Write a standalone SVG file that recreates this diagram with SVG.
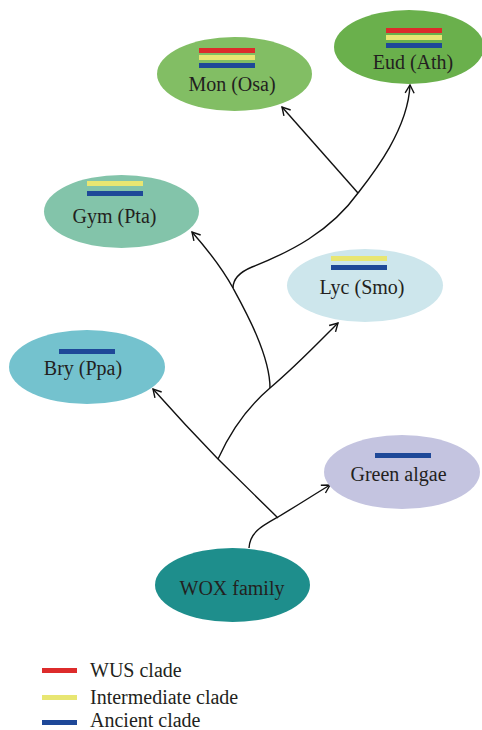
<svg xmlns="http://www.w3.org/2000/svg" width="482" height="730" viewBox="0 0 482 730">
<style>
.lbl{font-family:"Liberation Serif","Times New Roman",serif;font-size:20px;fill:#231F20}
.c{text-anchor:middle}
.edge{fill:none;stroke:#111;stroke-width:1.4;marker-end:url(#arr)}
.r{fill:#DD2B2B}.y{fill:#E8E672}.b{fill:#1E4898}
</style>
<defs>
<marker id="arr" markerUnits="userSpaceOnUse" markerWidth="12" markerHeight="12" refX="10" refY="6" orient="auto">
<path d="M2,1.5 L10,6 L2,10.5" fill="none" stroke="#111" stroke-width="1.4"/>
</marker>
</defs>
<rect width="482" height="730" fill="#fff"/>
<g id="connectors">
<path class="edge" d="M249,548 C250,532 262,526 278,517 C298,505 315,494 330,485"/>
<path class="edge" d="M278,518 L218,459 Q185,425 153,389"/>
<path class="edge" d="M218,459 C232,428 250,405 270,388 C295,367 318,343 338,323"/>
<path class="edge" d="M270,388 C270,355 245,310 233,288 C222,268 207,249 192,232"/>
<path class="edge" d="M233,288 C233,278 240,272 252,267 C290,252 330,232 358,193 C372,175 408,130 410,85"/>
<path class="edge" d="M358,193 L282,107"/>
</g>
<g id="mon">
<ellipse cx="234.5" cy="74" rx="77.5" ry="37" fill="#82BE64"/>
<rect class="r" x="199" y="48" width="56" height="5"/>
<rect class="y" x="199" y="55" width="56" height="5"/>
<rect class="b" x="199" y="63" width="56" height="5"/>
<text class="lbl c" x="232" y="91">Mon (Osa)</text>
</g>
<g id="eud">
<ellipse cx="409" cy="47" rx="75" ry="37" fill="#6AB04C"/>
<rect class="r" x="386" y="28" width="56" height="5"/>
<rect class="y" x="386" y="35" width="56" height="5"/>
<rect class="b" x="386" y="43" width="56" height="5"/>
<text class="lbl c" x="413" y="69">Eud (Ath)</text>
</g>
<g id="gym">
<ellipse cx="121.5" cy="211.5" rx="77.5" ry="36.5" fill="#83C4AA"/>
<rect class="y" x="87" y="181" width="56" height="5"/>
<rect class="b" x="87" y="191" width="56" height="5"/>
<text class="lbl c" x="114.5" y="223">Gym (Pta)</text>
</g>
<g id="lyc">
<ellipse cx="365" cy="285.5" rx="78" ry="36.5" fill="#CDE6EC"/>
<rect class="y" x="331" y="256" width="56" height="5"/>
<rect class="b" x="331" y="265" width="56" height="5"/>
<text class="lbl c" x="362" y="294">Lyc (Smo)</text>
</g>
<g id="bry">
<ellipse cx="87" cy="367" rx="78" ry="37" fill="#74C2CE"/>
<rect class="b" x="59" y="349" width="56" height="5"/>
<text class="lbl c" x="83" y="375">Bry (Ppa)</text>
</g>
<g id="algae">
<ellipse cx="402" cy="472" rx="78" ry="37" fill="#C4C4E0"/>
<rect class="b" x="375" y="453" width="56" height="5"/>
<text class="lbl c" x="398.5" y="481">Green algae</text>
</g>
<g id="wox">
<ellipse cx="232.5" cy="585" rx="77.5" ry="37" fill="#1E8E8C"/>
<text class="lbl c" x="232" y="595">WOX family</text>
</g>
<g id="legend">
<rect class="r" x="42" y="668" width="35" height="5"/>
<rect class="y" x="42" y="695" width="35" height="5"/>
<rect class="b" x="42" y="720" width="35" height="5"/>
<text class="lbl" x="90" y="677">WUS clade</text>
<text class="lbl" x="90" y="704">Intermediate clade</text>
<text class="lbl" x="90" y="727">Ancient clade</text>
</g>
</svg>
